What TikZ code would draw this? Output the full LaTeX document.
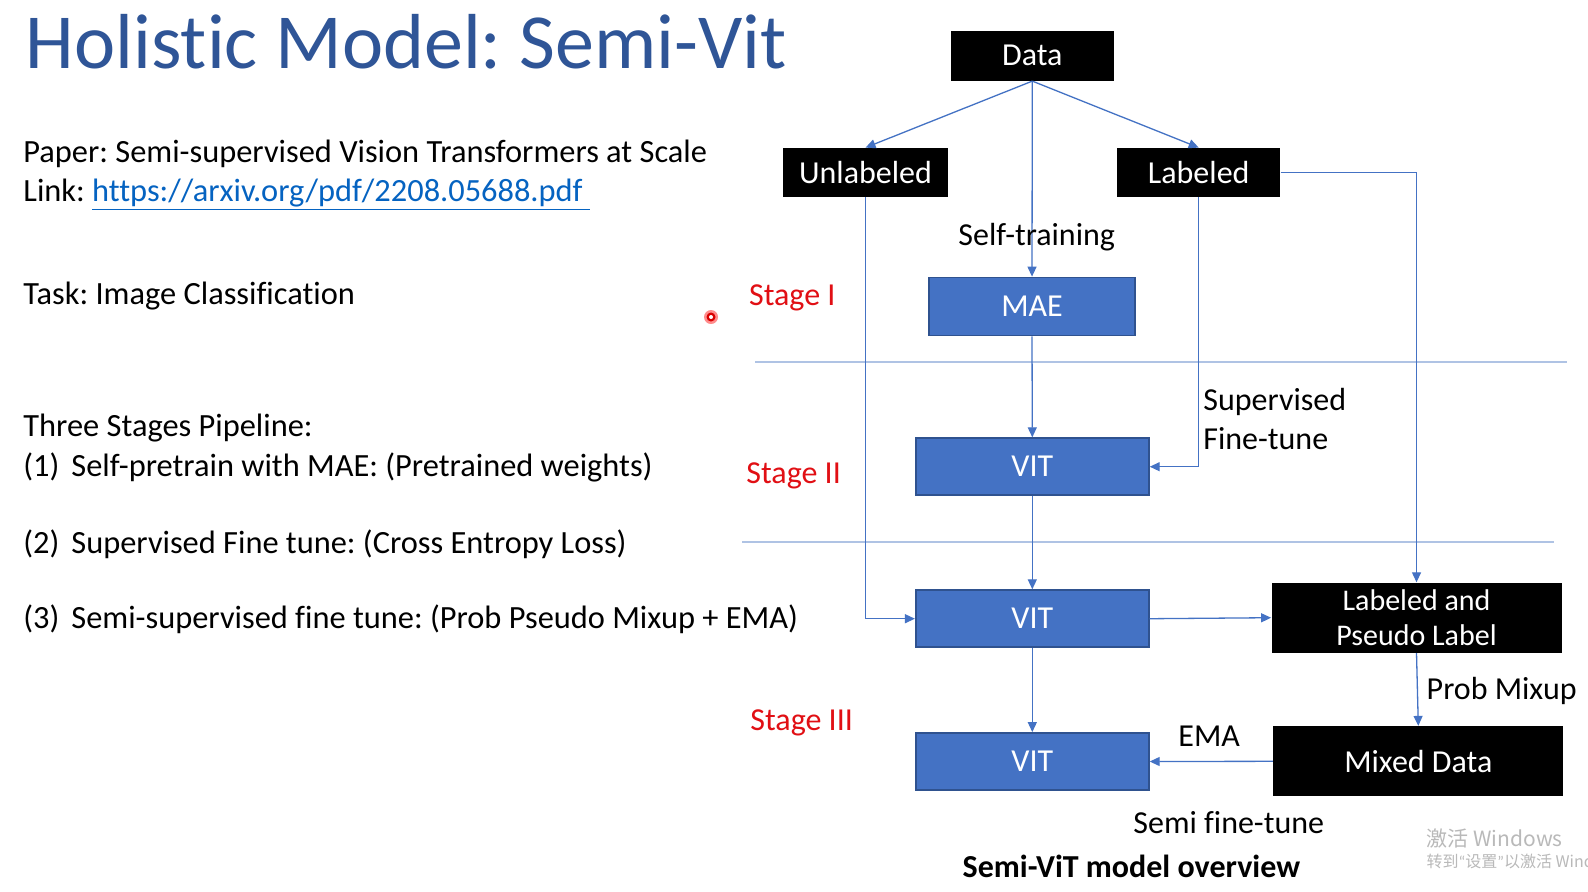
\documentclass[tikz,border=0pt]{standalone}
\usepackage{fontspec}
\setmainfont{Carlito}[Ligatures={NoCommon}]
\newfontfamily\cjkfont{Noto Sans CJK SC}
\newfontfamily\qfont{Carlito}
\usetikzlibrary{arrows.meta}
\definecolor{titleblue}{RGB}{47,85,151}
\definecolor{linkblue}{RGB}{5,99,193}
\definecolor{boxblue}{RGB}{68,114,196}
\definecolor{boxedge}{RGB}{47,82,143}
\definecolor{lineblue}{RGB}{68,114,196}
\definecolor{sepblue}{RGB}{175,195,228}
\definecolor{stagered}{RGB}{225,15,20}
\definecolor{wmgray}{RGB}{185,185,185}
\frenchspacing
\begin{document}
\begin{tikzpicture}[x=0.5pt,y=-0.5pt,
  blackbox/.style={fill=black, text=white, inner sep=0pt, font=\fontsize{16}{19}\selectfont},
  bluebox/.style={fill=boxblue, draw=boxedge, line width=0.9pt, text=white, minimum width=116.5pt, minimum height=28.5pt, inner sep=0pt, font=\fontsize{16}{19}\selectfont},
  conn/.style={draw=lineblue, line width=0.65pt, -{Triangle[length=5pt,width=4.5pt]}},
  sepline/.style={draw=sepblue, line width=0.8pt},
  lbl/.style={inner sep=0pt, anchor=base west, font=\fontsize{16}{19}\selectfont},
  bodytext/.style={lbl, font=\fontsize{16.2}{19}\selectfont},
  stagelbl/.style={lbl, text=stagered},
]
\useasboundingbox (0,0) rectangle (1588,891);
\fill[white] (0,0) rectangle (1588,891);

% left text
\node[anchor=base west, inner sep=0pt, text=titleblue, font=\fontsize{39}{46}\selectfont] (title) at (25.5,68.3) {Holistic Model: Semi-Vit};
\node[bodytext] (paper) at (23,162) {Paper: Semi-supervised Vision Transformers at Scale};
\node[bodytext] (link) at (23,201) {Link: \textcolor{linkblue}{\underline{https://arxiv.org/pdf/2208.05688.pdf\ }}};
\node[bodytext] (task) at (23,304) {Task: Image Classification};
\node[bodytext] (three) at (23,436) {Three Stages Pipeline:};
\node[bodytext] (s1) at (23,476) {\makebox[24pt][l]{(1)}Self-pretrain with MAE: (Pretrained weights)};
\node[bodytext] (s2) at (23,553) {\makebox[24pt][l]{(2)}Supervised Fine tune: (Cross Entropy Loss)};
\node[bodytext] (s3) at (23,628) {\makebox[24pt][l]{(3)}Semi-supervised fine tune: (Prob Pseudo Mixup + EMA)};

% laser pointer dot
\fill[red!45] (711,317) circle (7);
\fill[red!85!black] (711,317) circle (4.5);
\fill[white] (711,317) circle (2);

% separators
\draw[sepline] (755,362) -- (1567,362);
\draw[sepline] (742,541.7) -- (1554,541.7);

% boxes
\node[blackbox, minimum width=81.5pt, minimum height=25pt] (data) at (1032.3,55.7) {Data};
\node[blackbox, minimum width=82.5pt, minimum height=24.5pt] (unl) at (865.5,172.5) {Unlabeled};
\node[blackbox, minimum width=81.5pt, minimum height=24.5pt] (lab) at (1198.7,172.5) {Labeled};
\node[bluebox, minimum width=103pt, minimum height=29pt] (mae) at (1032,306.5) {MAE};
\node[bluebox] (vit1) at (1032.3,466.7) {VIT};
\node[bluebox] (vit2) at (1032.3,618.7) {VIT};
\node[bluebox] (vit3) at (1032.3,761.5) {VIT};
\node[blackbox, minimum width=145pt, minimum height=35pt, align=center, font=\fontsize{15}{17.5}\selectfont] (lpl) at (1416.5,617.7) {Labeled and\\Pseudo Label};
\node[blackbox, minimum width=145pt, minimum height=35pt] (mix) at (1418.3,761.3) {Mixed Data};

% connectors
\draw[conn] (data.south) -- (unl.north);
\draw[conn] (data.south) -- (lab.north);
\draw[conn] (data.south) -- (mae.north);
\draw[conn] (mae.south) -- (vit1.north);
\draw[conn] (lab.south) |- (vit1.east);
\draw[conn] (unl.south) |- (vit2.west);
\draw[conn] (lab.east) -| (lpl.north);
\draw[conn] (vit1.south) -- (vit2.north);
\draw[conn] (vit2.east) -- (lpl.west);
\draw[conn] (vit2.south) -- (vit3.north);
\draw[conn] (lpl.south) -- (mix.north);
\draw[conn] (mix.west) -- (vit3.east);

% labels
\node[lbl, anchor=base] (selft) at (1036.7,245) {Self-training};
\node[stagelbl] (st1) at (748.7,305) {Stage I};
\node[stagelbl] (st2) at (746,483.3) {Stage II};
\node[stagelbl] (st3) at (750,730) {Stage III};
\node[lbl] (sup) at (1203,410) {Supervised};
\node[lbl] (fine) at (1203,449.5) {Fine-tune};
\node[lbl] (prob) at (1426.3,699.3) {Prob Mixup};
\node[lbl] (ema) at (1178,746.7) {EMA};
\node[lbl] (semi) at (1133,833.3) {Semi fine-tune};
\node[lbl, font=\fontsize{16}{19}\selectfont\bfseries] (cap) at (962.3,877.5) {Semi-ViT model overview};

% watermark
\node[lbl, text=wmgray, font=\fontsize{10.5}{12}\cjkfont] (wm1) at (1426.3,846) {激活 Windows};
\node[lbl, text=wmgray, font=\fontsize{8}{10}\cjkfont] (wm2) at (1426.3,867) {转到{\qfont“}设置{\qfont”}以激活 Windows};
\end{tikzpicture}
\end{document}
